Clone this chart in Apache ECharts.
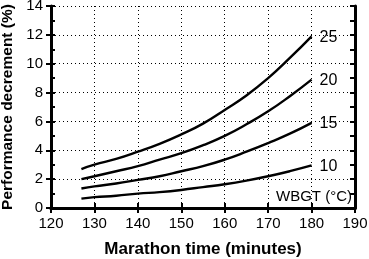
<!DOCTYPE html>
<html>
<head>
<meta charset="utf-8">
<script src="https://cdn.jsdelivr.net/npm/echarts@6/dist/echarts.min.js"></script>
<style>
  html, body { margin: 0; padding: 0; background: #fff; }
  #chart { width: 369px; height: 259px; }
</style>
</head>
<body>
<div id="chart"></div>
<script>
// marathon time (minutes)
var times = [127, 130, 135, 140, 145, 150, 155, 160, 165, 170, 175, 180];
// performance decrement (%) per WBGT
var wbgt25 = [2.7, 3.0, 3.4, 3.9, 4.45, 5.1, 5.85, 6.8, 7.8, 9.0, 10.4, 11.9];
var wbgt20 = [2.0, 2.2, 2.55, 2.9, 3.35, 3.8, 4.35, 5.0, 5.8, 6.7, 7.75, 8.9];
var wbgt15 = [1.35, 1.5, 1.7, 1.95, 2.2, 2.55, 2.9, 3.35, 3.9, 4.5, 5.15, 5.9];
var wbgt10 = [0.65, 0.75, 0.85, 1.0, 1.1, 1.25, 1.45, 1.65, 1.9, 2.2, 2.55, 2.95];
var seriesNames = ["25", "20", "15", "10"];
var xTicks = [120, 130, 140, 150, 160, 170, 180, 190];
var yTicks = [0, 2, 4, 6, 8, 10, 12, 14];

var font = "Liberation Sans, Arial, Helvetica, sans-serif";
var myChart = echarts.init(document.getElementById("chart"));

function pairs(ys) {
  return times.map(function (t, i) { return [t, ys[i]]; });
}

function curve(name, ys) {
  return {
    name: name,
    type: "line",
    data: pairs(ys),
    smooth: true,
    symbol: "none",
    lineStyle: { color: "#000", width: 2.4 },
    endLabel: {
      show: true,
      formatter: name,
      color: "#000",
      fontSize: 16,
      fontFamily: font,
      distance: 8,
      offset: [0, 1]
    }
  };
}

var axisLine = { show: true, lineStyle: { color: "#000", width: 3 } };
var gridDots = { color: "#000", type: [1, 3], width: 1 };

myChart.setOption({
  animation: false,
  grid: { left: 51, right: 14, top: 6, bottom: 51, outerBoundsMode: "none", containLabel: false },
  xAxis: [
    {
      type: "value",
      min: xTicks[0],
      max: xTicks[xTicks.length - 1],
      interval: 10,
      position: "bottom",
      name: "Marathon time (minutes)",
      nameLocation: "middle",
      nameGap: 33,
      nameTextStyle: { fontSize: 17, fontWeight: "bold", fontFamily: font, color: "#000" },
      axisLine: axisLine,
      axisTick: { show: true, inside: false, length: 5, lineStyle: { color: "#000", width: 2 } },
      axisLabel: { color: "#000", fontSize: 15, fontFamily: font, margin: 8 },
      splitLine: { show: true, lineStyle: gridDots }
    },
    {
      type: "value",
      min: xTicks[0],
      max: xTicks[xTicks.length - 1],
      interval: 10,
      position: "top",
      axisLine: axisLine,
      axisTick: { show: true, inside: false, length: 5, lineStyle: { color: "#000", width: 2 } },
      axisLabel: { show: false },
      splitLine: { show: false }
    }
  ],
  yAxis: [
    {
      type: "value",
      min: yTicks[0],
      max: yTicks[yTicks.length - 1],
      interval: 2,
      position: "left",
      name: "Performance decrement (%)",
      nameLocation: "middle",
      nameGap: 30,
      nameTextStyle: { fontSize: 15.5, fontWeight: "bold", fontFamily: font, color: "#000" },
      axisLine: axisLine,
      axisTick: { show: true, inside: false, length: 5, lineStyle: { color: "#000", width: 2 } },
      axisLabel: { color: "#000", fontSize: 15, fontFamily: font, margin: 8 },
      splitLine: { show: true, lineStyle: gridDots }
    },
    {
      // minor inward ticks on the left
      type: "value",
      min: 0,
      max: 14,
      interval: 1,
      position: "left",
      axisLine: { show: false },
      axisTick: { show: true, inside: true, length: 4, lineStyle: { color: "#000", width: 2 } },
      axisLabel: { show: false },
      splitLine: { show: false }
    },
    {
      type: "value",
      min: 0,
      max: 14,
      interval: 1,
      position: "right",
      axisLine: axisLine,
      axisTick: { show: true, inside: true, length: 5, lineStyle: { color: "#000", width: 2 } },
      axisLabel: { show: false },
      splitLine: { show: false }
    }
  ],
  graphic: [
    {
      type: "text",
      right: 17,
      top: 189,
      style: { text: "WBGT (°C)", fill: "#000", fontSize: 15, fontFamily: font }
    }
  ],
  series: [
    curve(seriesNames[0], wbgt25),
    curve(seriesNames[1], wbgt20),
    curve(seriesNames[2], wbgt15),
    curve(seriesNames[3], wbgt10)
  ]
});
</script>
</body>
</html>
